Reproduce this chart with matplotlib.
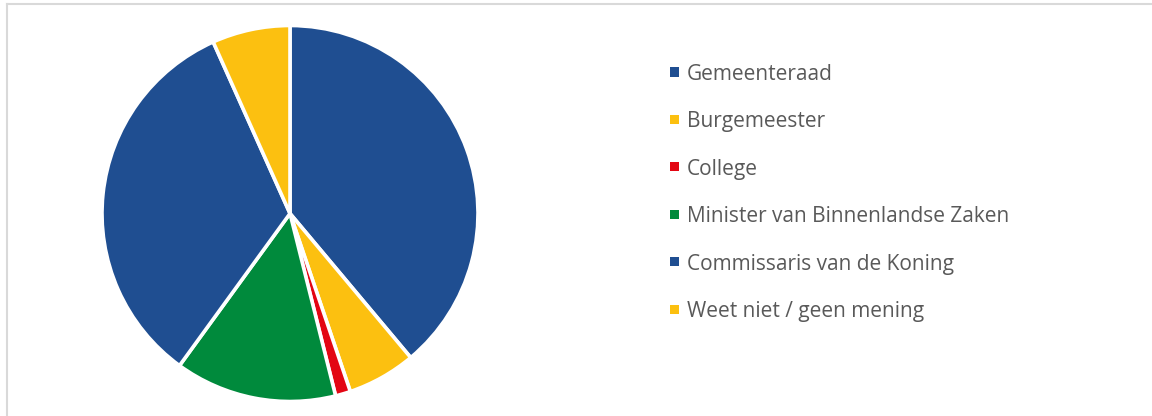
import matplotlib
matplotlib.use("Agg")
import matplotlib.pyplot as plt
from matplotlib.patches import Rectangle
from matplotlib.lines import Line2D

# data (percent)
labels = ["Gemeenteraad", "Burgemeester", "College",
          "Minister van Binnenlandse Zaken", "Commissaris van de Koning",
          "Weet niet / geen mening"]
values = [38.9, 5.9, 1.3, 13.9, 33.3, 6.7]
colors = ["#1F4E91", "#FCC010", "#E30613", "#008A3C", "#1F4E91", "#FCC010"]

W, H = 1152, 416
fig = plt.figure(figsize=(W / 100, H / 100), dpi=100)

# pie axes, placed in pixel terms
cx, cy, r = 290, 213.5, 188
ax = fig.add_axes([(cx - r) / W, (H - cy - r) / H, 2 * r / W, 2 * r / H])
ax.pie(values, colors=colors, startangle=90, counterclock=False, radius=1,
       wedgeprops=dict(edgecolor="white", linewidth=2.6))
ax.set_xlim(-1.0, 1.0)
ax.set_ylim(-1.0, 1.0)
ax.set_aspect("equal")
ax.axis("off")

# chart border (top and left edge visible)
fig.add_artist(Line2D([7 / W, 7 / W], [0, (H - 4) / H], transform=fig.transFigure,
                      color="#D9D9D9", linewidth=1.5))
fig.add_artist(Line2D([7 / W, 1], [(H - 4) / H, (H - 4) / H], transform=fig.transFigure,
                      color="#D9D9D9", linewidth=1.5))

# legend
y0, dy = 72, 47.4
for i, (lab, col) in enumerate(zip(labels, colors)):
    y = y0 + i * dy
    fig.add_artist(Rectangle((670 / W, (H - y - 4.5) / H), 9 / W, 9 / H,
                             transform=fig.transFigure, facecolor=col, edgecolor="none"))
    fig.text(687 / W, (H - y) / H, lab, fontsize=15, color="#595959",
             family=["Open Sans", "DejaVu Sans"], va="center_baseline", ha="left")

fig.savefig("out.png", dpi=100)
